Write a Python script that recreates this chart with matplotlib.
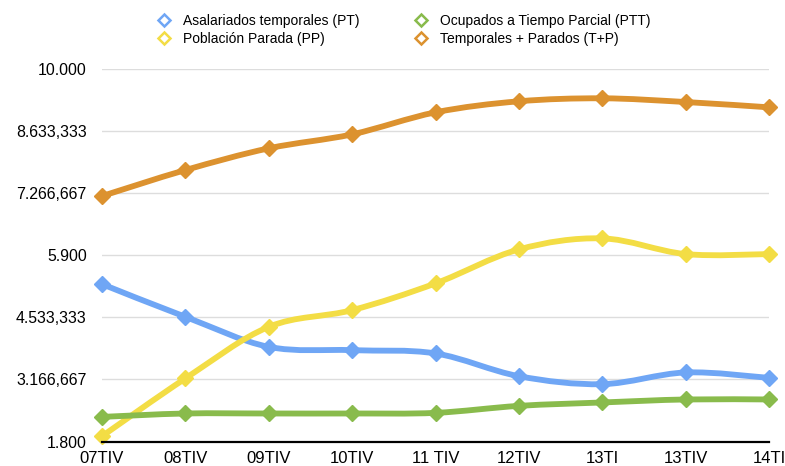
import numpy as np
import matplotlib
matplotlib.use("Agg")
import matplotlib.pyplot as plt
from matplotlib.path import Path
from matplotlib.patches import PathPatch
from matplotlib.lines import Line2D
from matplotlib.ticker import FixedLocator, FuncFormatter

plt.rcParams['font.family'] = ['Liberation Sans', 'DejaVu Sans']

categories = ["07TIV", "08TIV", "09TIV", "10TIV", "11 TIV", "12TIV", "13TI", "13TIV", "14TI"]
pt = [5267, 4547, 3885, 3812, 3740, 3239, 3063, 3321, 3202]
ptt = [2342, 2417, 2417, 2417, 2431, 2585, 2660, 2726, 2726]
pp = [1917, 3189, 4326, 4694, 5283, 6032, 6275, 5929, 5929]
tp = [7207, 7780, 8259, 8567, 9052, 9295, 9361, 9279, 9162]

labels = ["Asalariados temporales (PT)", "Población Parada (PP)",
          "Ocupados a Tiempo Parcial (PTT)", "Temporales + Parados (T+P)"]
colors = {"PT": "#6FA6F5", "PP": "#F3DD45", "PTT": "#89BB4C", "TP": "#DC922F"}

ymin, ymax = 1800, 10000
yticks = np.linspace(ymin, ymax, 7)


def smooth_path(xs, ys, tension=1/6):
    xs = np.asarray(xs, float)
    ys = np.asarray(ys, float)
    n = len(xs)
    verts = [(xs[0], ys[0])]
    codes = [Path.MOVETO]
    for i in range(n - 1):
        p0 = np.array([xs[max(i - 1, 0)], ys[max(i - 1, 0)]])
        p1 = np.array([xs[i], ys[i]])
        p2 = np.array([xs[i + 1], ys[i + 1]])
        p3 = np.array([xs[min(i + 2, n - 1)], ys[min(i + 2, n - 1)]])
        c1 = p1 + (p2 - p0) * tension
        c2 = p2 - (p3 - p1) * tension
        verts += [tuple(c1), tuple(c2), tuple(p2)]
        codes += [Path.CURVE4] * 3
    return Path(verts, codes)


def fmt(v, pos=None):
    s = f"{v:,.3f}"
    ip, dp = s.split(".")
    ip = ip.replace(",", ".")
    dp = dp.rstrip("0")
    return ip + ("," + dp if dp else "")


fig = plt.figure(figsize=(7.85, 4.66), dpi=100)
ax = fig.add_axes([102 / 785, 24.5 / 466, (769 - 102) / 785, (441.5 - 69.3) / 466])
x = np.arange(len(categories))

series = [(pt, colors["PT"]), (pp, colors["PP"]), (ptt, colors["PTT"]), (tp, colors["TP"])]
for z, (vals, c) in enumerate(series):
    patch = PathPatch(smooth_path(x, vals), facecolor="none", edgecolor=c, lw=4.2,
                      capstyle="round", joinstyle="round", zorder=3 + z, clip_on=False)
    ax.add_patch(patch)
    ax.plot(x, vals, linestyle="none", marker="D", ms=8, color=c, zorder=3 + z, clip_on=False)

ax.set_xlim(0, len(categories) - 1)
ax.set_ylim(ymin, ymax)
ax.yaxis.set_major_locator(FixedLocator(yticks))
ax.yaxis.set_major_formatter(FuncFormatter(fmt))
ax.set_xticks(x)
ax.set_xticklabels(categories)
ax.grid(axis="y", color="#dddddd", lw=1)
ax.set_axisbelow(True)
for s in ["top", "right", "left"]:
    ax.spines[s].set_visible(False)
ax.spines["bottom"].set_color("black")
ax.spines["bottom"].set_linewidth(1.6)
ax.spines["bottom"].set_zorder(10)
ax.tick_params(axis="both", length=0, colors="black")
ax.tick_params(axis="y", pad=11, labelsize=11.4)
ax.tick_params(axis="x", pad=7, labelsize=12)

handles = [Line2D([], [], linestyle="none", marker="D", ms=6, markerfacecolor="none",
                  markeredgecolor=c, markeredgewidth=1.8) for _, c in series]
fig.legend(handles, labels, ncol=2, loc="upper left", bbox_to_anchor=(143 / 785, 1 - 1 / 466),
           frameon=False, fontsize=10, handletextpad=0.8, columnspacing=3.8,
           labelspacing=0.35, handlelength=1.2)

fig.savefig("out.png", dpi=100)
